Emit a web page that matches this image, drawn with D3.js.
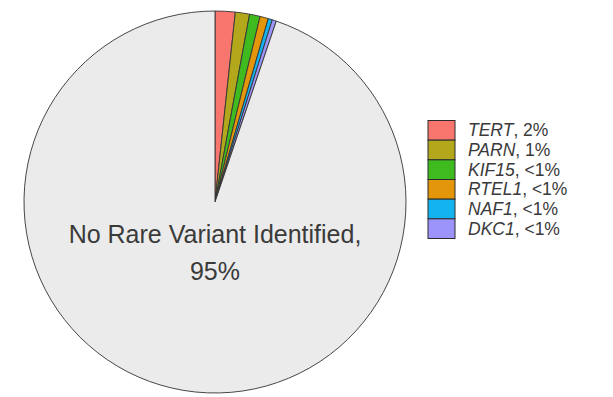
<!DOCTYPE html>
<html>
<head>
<meta charset="utf-8">
<script src="https://cdn.jsdelivr.net/npm/d3@7"></script>
<style>
  html, body { margin: 0; padding: 0; background: #ffffff; }
  svg { display: block; }
</style>
</head>
<body>
<svg id="chart" width="613" height="397"></svg>
<script>
// Share of cases by rare variant gene (percent)
const genes = ["TERT", "PARN", "KIF15", "RTEL1", "NAF1", "DKC1", "No Rare Variant Identified"];
const shares = [1.7, 1.2, 0.9, 0.7, 0.35, 0.35, 94.8];
const shareLabels = ["2%", "1%", "<1%", "<1%", "<1%", "<1%", "95%"];
const colors = ["#f8766d", "#b3a81c", "#3fbb20", "#e3960a", "#12b3ef", "#9d94fb", "#ebebeb"];

const svg = d3.select("#chart");
const cx = 215, cy = 202, r = 191;

const data = genes.map((g, i) => ({ gene: g, value: shares[i], label: shareLabels[i], color: colors[i] }));

const pie = d3.pie().sort(null).value(d => d.value);
const arc = d3.arc().innerRadius(0).outerRadius(r);

const g = svg.append("g").attr("transform", `translate(${cx},${cy})`);
g.selectAll("path")
  .data(pie(data))
  .join("path")
  .attr("d", arc)
  .attr("fill", d => d.data.color)
  .attr("stroke", "#333333")
  .attr("stroke-width", 0.9)
  .attr("stroke-linejoin", "round");

// Label for the dominant slice
const main = data[data.length - 1];
const lbl = svg.append("text")
  .attr("x", cx)
  .attr("text-anchor", "middle")
  .attr("font-family", "Liberation Sans, Arial, sans-serif")
  .attr("font-size", 25)
  .attr("fill", "#3a3a3a");
lbl.append("tspan").attr("x", cx).attr("y", 243).text(main.gene + ",");
lbl.append("tspan").attr("x", cx).attr("y", 280).text(main.label);

// Legend for the gene slices
const legendItems = data.slice(0, data.length - 1);
const ly = d3.scaleBand().domain(legendItems.map(d => d.gene)).range([120.5, 238.5]).paddingInner(0);
const legend = svg.append("g");
const items = legend.selectAll("g").data(legendItems).join("g")
  .attr("transform", d => `translate(428,${ly(d.gene)})`);
items.append("rect")
  .attr("width", 27)
  .attr("height", ly.bandwidth())
  .attr("fill", d => d.color)
  .attr("stroke", "#2b2b2b")
  .attr("stroke-width", 1);
const t = items.append("text")
  .attr("x", 40)
  .attr("y", ly.bandwidth() / 2 + 6)
  .attr("font-family", "Liberation Sans, Arial, sans-serif")
  .attr("font-size", 17.5)
  .attr("fill", "#3a3a3a");
t.append("tspan").attr("font-style", "italic").text(d => d.gene);
t.append("tspan").text(d => ", " + d.label);
</script>
</body>
</html>
